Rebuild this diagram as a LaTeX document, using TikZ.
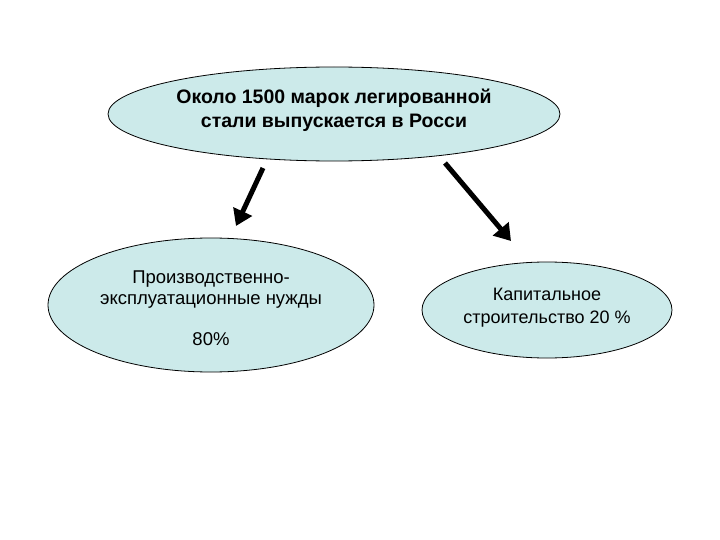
\documentclass[tikz,border=0pt]{standalone}
\usepackage{fontspec}
\setmainfont{Liberation Sans}
\usetikzlibrary{shapes.geometric,arrows.meta}
\definecolor{fillc}{RGB}{204,234,234}
\begin{document}
\begin{tikzpicture}[x=1pt,y=-1pt,
  ell/.style={draw=black,fill=fillc,line width=0.8pt},
  arr/.style={line width=5pt,-{Triangle[length=16pt,width=20pt]}}]
\useasboundingbox (0,0) rectangle (720,540);
\draw[ell] (334,114) ellipse [x radius=226, y radius=47];
\draw[ell] (211,305) ellipse [x radius=163, y radius=67];
\draw[ell] (547,310) ellipse [x radius=125, y radius=48];
\node[font=\bfseries\fontsize{19.5}{24}\selectfont,align=center] (top) at (334,110) {Около 1500 марок легированной\\стали выпускается в Росси};
\node[font=\fontsize{18.5}{21}\selectfont,align=center] (l) at (211,290) {Производственно-\\эксплуатационные нужды};
\node[font=\fontsize{18.5}{21}\selectfont] (p) at (211,339) {80\%};
\node[font=\fontsize{18}{23}\selectfont,align=center] (r) at (547,308) {Капитальное\\строительство 20 \%};
\coordinate (a1) at (263,168); \coordinate (b1) at (236,226);
\coordinate (a2) at (445,163); \coordinate (b2) at (511,241);
\draw[arr] (a1) -- (b1);
\draw[arr] (a2) -- (b2);
\end{tikzpicture}
\end{document}
